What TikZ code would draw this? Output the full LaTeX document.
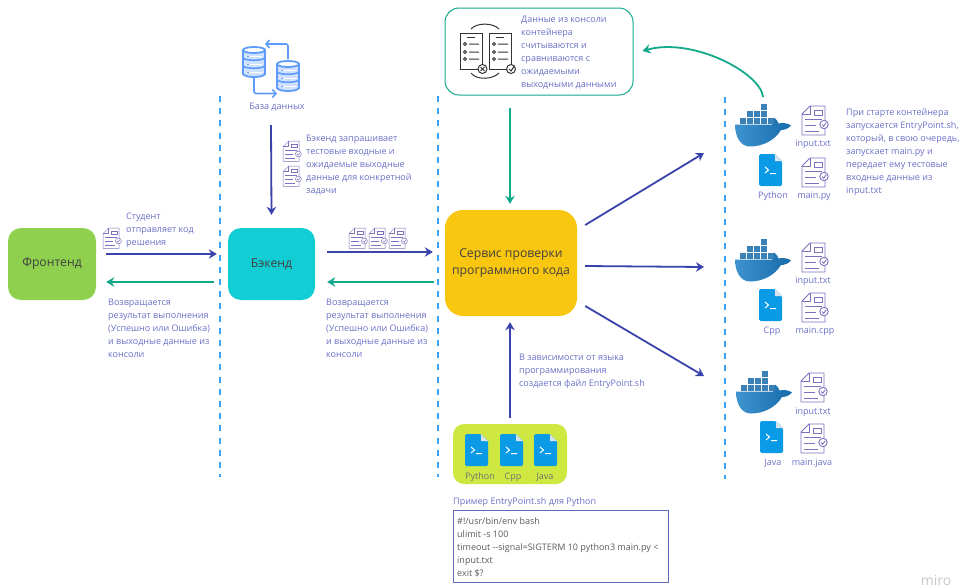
\documentclass[tikz,border=0pt]{standalone}
\usepackage{fontspec}
\setmainfont{Open Sans}
\usetikzlibrary{arrows.meta,calc}
\definecolor{txt}{HTML}{6A70C6}
\definecolor{arrb}{HTML}{3A42AC}
\definecolor{arrg}{HTML}{14A88C}
\definecolor{dashc}{HTML}{3AA3F5}
\definecolor{docc}{HTML}{7A72BE}
\definecolor{filec}{HTML}{0A9AE6}
\definecolor{foldc}{HTML}{D8E4EC}
\definecolor{dbc}{HTML}{5F9BFA}
\definecolor{whalel}{HTML}{3F93CF}
\definecolor{whaled}{HTML}{166BAA}
\definecolor{febox}{HTML}{8FD14F}
\definecolor{bebox}{HTML}{12CDD4}
\definecolor{svbox}{HTML}{FAC710}
\definecolor{limebox}{HTML}{CEE741}
\tikzset{
  lbl/.style={font=\fontsize{9}{13}\selectfont,text=txt,align=left,inner sep=0pt,anchor=north west},
  captxt/.style={font=\fontsize{9}{13}\selectfont,text=txt,inner sep=0pt,anchor=center,yshift=-1.5pt},
  limetxt/.style={font=\fontsize{9}{13}\selectfont,text=black!55,inner sep=0pt,anchor=center,yshift=-1pt},
  bigbox/.style={rounded corners=13pt,inner sep=0pt,font=\fontsize{12.2}{17}\selectfont,align=center,text=black!75},
  sepline/.style={dashc,line width=1.3pt,dash pattern=on 6pt off 6.2pt},
  barrow/.style={arrb,line width=1.8pt,-{Stealth[length=8pt,width=9.5pt]}},
  garrow/.style={arrg,line width=1.8pt,-{Stealth[length=8pt,width=9.5pt]}},
  pics/docicon/.style={code={
    \draw[docc,line width=#1,line join=round,fill=white]
      (8,0) -- (23,0) -- (23,29) -- (0,29) -- (0,8) -- cycle;
    \draw[docc,line width=#1,line join=round] (8,0) -- (8,8) -- (0,8);
    \draw[docc,line width=#1] (12,4) rectangle (20,9.5);
    \draw[docc,line width=#1] (3,13) -- (20,13) (3,19) -- (14,19) (3,25) -- (17,25);
    \draw[docc,line width=#1,fill=white] (22,18.5) circle (4.2);
    \draw[docc,line width=#1] (20,18.5) -- (21.7,20.3) -- (24.2,16.8);
  }},
  pics/fileicon/.style={code={
    \fill[filec,rounded corners=1.5pt] (0,0) -- (16,0) -- (23,7) -- (23,32) -- (0,32) -- cycle;
    \fill[foldc] (16,0) -- (23,7) -- (16,7) -- cycle;
    \draw[white,line width=1pt] (6,13) -- (9.5,16) -- (6,19) (11,19.5) -- (17,19.5);
  }},
  pics/whaleicon/.style={code={
    \shade[left color=whalel,right color=whaled] (0,21.5) -- (37,21.5) .. controls (37.5,19) and (38,16.5) .. (39,14.5) .. controls (41,16) and (43,18) .. (43.5,20.5) .. controls (47,19.5) and (53,20) .. (56,22.5) .. controls (53,26) and (49,27) .. (46,27) .. controls (40,37) and (28,43.5) .. (15,43.5) .. controls (5,43.5) and (0,33) .. (0,21.5) -- cycle;
    \foreach \c in {0,1,2,3,4}{\fill[whaled!85!white] (5+\c*7,15) rectangle ++(6,6);}
    \foreach \c in {1,2,3}{\fill[whaled!85!white] (5+\c*7,8) rectangle ++(6,6);}
    \fill[whaled!85!white] (26,1) rectangle ++(6,6);
  }},
  pics/cyl/.style={code={
    \draw[dbc,line width=1.8pt,fill=dbc!30] (0,3) -- (0,27) .. controls (2,31) and (20,31) .. (22,27) -- (22,3);
    \draw[dbc,line width=1.8pt,fill=white] (11,3) ellipse (11 and 3);
    \draw[dbc,line width=1.6pt] (0,11) .. controls (3,14) and (19,14) .. (22,11) (0,19) .. controls (3,22) and (19,22) .. (22,19);
    \draw[white,line width=1.6pt] (3,9.5) -- (19,9.5) (3,17.5) -- (19,17.5) (3,25.5) -- (19,25.5);
    \draw[dbc,line width=1.2pt] (4,9.5) -- (6,9.5) (4,17.5) -- (6,17.5) (4,25.5) -- (6,25.5);
  }},
  pics/sheet/.style={code={
    \draw[black!80,line width=1pt] (0,0) rectangle (22,36);
    \draw[black!80,line width=1pt] (7,4) -- (15,4);
    \foreach \yy in {11,19,26}{\draw[black!80,line width=1pt] (5,\yy) circle (1.5) (9,\yy) -- (19,\yy);}
  }}
}
\begin{document}
\begin{tikzpicture}[x=1pt,y=-1pt]
\useasboundingbox (0,0) rectangle (974,587);
% separators
\coordinate (s1t) at (220,96); \coordinate (s1b) at (220,477);
\coordinate (s2t) at (438,96); \coordinate (s2b) at (438,477);
\coordinate (s3t) at (725,97); \coordinate (s3b) at (725,479);
\draw[sepline] (s1t) -- (s1b);
\draw[sepline] (s2t) -- (s2b);
\draw[sepline] (s3t) -- (s3b);
% main boxes
\node[bigbox,fill=febox,minimum width=88pt,minimum height=72pt] (fe) at (52,264) {Фронтенд};
\node[bigbox,fill=bebox,minimum width=87pt,minimum height=72pt] (be) at (271.5,264) {Бэкенд};
\node[bigbox,fill=svbox,minimum width=132pt,minimum height=106pt,rounded corners=18pt] (sv) at (511,263) {Сервис проверки\\программного кода};
\node[draw=arrg,line width=1pt,fill=white,rounded corners=14pt,minimum width=188pt,minimum height=87pt,inner sep=0pt] (chk) at (539,51.5) {};
\node[fill=limebox,rounded corners=11pt,minimum width=114pt,minimum height=60pt,inner sep=0pt] (lm) at (510,454) {};
\node[draw=arrb!80,line width=1pt,minimum width=215pt,minimum height=72pt,inner sep=0pt] (code) at (560.5,546) {};
% docker anchors
\coordinate (d1) at (735,103);
\coordinate (d2) at (735,238);
\coordinate (d3) at (736,370);
\coordinate (t1) at (704,153);
\coordinate (t2) at (704,267);
\coordinate (t3) at (704,376);
% arrows
\draw[barrow] ([xshift=10pt,yshift=10pt]fe.east) -- ([xshift=-11pt,yshift=10pt]be.west);
\draw[garrow] ([xshift=-14pt,yshift=-18pt]be.west) -- ([xshift=10pt,yshift=-18pt]fe.east);
\draw[barrow] ([xshift=12pt,yshift=12pt]be.east) -- ([xshift=-12pt,yshift=11pt]sv.west);
\draw[garrow] ([xshift=-11pt,yshift=-19pt]sv.west) -- ([xshift=12pt,yshift=-18pt]be.east);
\draw[garrow] ([xshift=-29pt,yshift=-12pt]chk.south) -- ([xshift=-1pt,yshift=6pt]sv.north);
\draw[barrow] ([yshift=6pt]lm.north) -- ([xshift=-1pt,yshift=-6pt]sv.south);
\node[inner sep=0pt,minimum size=0pt] (dbl) at (271,125) {};
\draw[barrow] (dbl) -- ([yshift=13pt]be.north);
\draw[barrow] ([xshift=8pt,yshift=38pt]sv.east) -- (t1);
\draw[barrow] ([xshift=8pt,yshift=-3pt]sv.east) -- (t2);
\draw[barrow] ([xshift=8pt,yshift=-43pt]sv.east) -- (t3);
\draw[garrow] ([xshift=28pt,yshift=6pt]d1) .. controls +(-2,-24) and +(50,-14) .. ([xshift=9pt,yshift=0.5pt]chk.east);
% box labels
\node[lbl] (tchk) at (521,15.5) {Данные из консоли\\контейнера\\считываются и\\сравниваются с\\ожидаемыми\\выходными данными};
\node[captxt] (tdb) at (277,106) {База данных};
\node[lbl] (tbe) at (306,134.5) {Бэкенд запрашивает\\тестовые входные и\\ожидаемые выходные\\данные для конкретной\\задачи};
\node[lbl] (tst) at (126,212.5) {Студент\\отправляет код\\решения};
\node[lbl] (tr1) at (108,299) {Возвращается\\результат выполнения\\(Успешно или Ошибка)\\и выходные данные из\\консоли};
\node[lbl] (tr2) at (326,299) {Возвращается\\результат выполнения\\(Успешно или Ошибка)\\и выходные данные из\\консоли};
\node[lbl] (tdep) at (519,353.5) {В зависимости от языка\\программирования\\создается файл EntryPoint.sh};
\node[lbl] (tstart) at (846,108.5) {При старте контейнера\\запускается EntryPoint.sh,\\который, в свою очередь,\\запускает main.py и\\передает ему тестовые\\входные данные из\\input.txt};
\node[lbl] (tex) at (453,497) {Пример EntryPoint.sh для Python};
\node[lbl,text=black!65] (tcode) at (457,517) {\#!/usr/bin/env bash\\ulimit -s 100\\timeout -{}-signal=SIGTERM 10 python3 main.py <\\input.txt\\exit \$?};
% lime files
\pic at (465,434) {fileicon};
\pic at (500,434) {fileicon};
\pic at (534,434) {fileicon};
\node[limetxt] (lp) at (480,476) {Python};
\node[limetxt] (lc) at (513,476) {Cpp};
\node[limetxt] (lj) at (545,476) {Java};
% doc icons small
\pic[scale=.7] at (103,228) {docicon=.5pt};
\pic[scale=.7] at (283,141) {docicon=.5pt};
\pic[scale=.7] at (283,166) {docicon=.5pt};
\pic[scale=.7] at (349,228) {docicon=.5pt};
\pic[scale=.7] at (369,228) {docicon=.5pt};
\pic[scale=.7] at (389,228) {docicon=.5pt};
% container 1
\pic at (d1) {whaleicon};
\pic at (802,106) {docicon=.9pt};
\pic at (802,158) {docicon=.9pt};
\pic at (759,154) {fileicon};
\node[captxt] (i1) at (813,143) {input.txt};
\node[captxt] (p1) at (773,194.5) {Python};
\node[captxt] (m1) at (814,194.5) {main.py};
% container 2
\pic at (d2) {whaleicon};
\pic at (802,243) {docicon=.9pt};
\pic at (802,293) {docicon=.9pt};
\pic at (759,289) {fileicon};
\node[captxt] (i2) at (813,279.5) {input.txt};
\node[captxt] (p2) at (772,330) {Cpp};
\node[captxt] (m2) at (815,330) {main.cpp};
% container 3
\pic at (d3) {whaleicon};
\pic at (801,373) {docicon=.9pt};
\pic at (801,424) {docicon=.9pt};
\pic at (760,421) {fileicon};
\node[captxt] (i3) at (813,411) {input.txt};
\node[captxt] (p3) at (773,462) {Java};
\node[captxt] (m3) at (812,462) {main.java};
% database icon
\pic at (243,47) {cyl};
\pic at (277,61) {cyl};
\draw[dbc,line width=1.6pt,-{Straight Barb[length=3.5pt,width=8pt]},rounded corners=2pt] (288,59) -- (288,44) -- (265,44);
\draw[dbc,line width=1.6pt,-{Straight Barb[length=3.5pt,width=8pt]},rounded corners=2pt] (254,78) -- (254,93.5) -- (277,93.5);
% checklist icon
\pic at (460,33) {sheet};
\pic at (489,33) {sheet};
\draw[black!80,line width=1pt] (471,29) .. controls (476,23) and (492,22) .. (499,29);
\draw[black!80,line width=1pt] (471,73) .. controls (476,80) and (492,80) .. (499,73);
\draw[black!80,line width=1pt,fill=white] (482.5,69) circle (4.5);
\draw[black!80,line width=1pt] (480.5,67) -- (484.5,71) (484.5,67) -- (480.5,71);
\draw[black!80,line width=1pt,fill=white] (511,69) circle (4.5);
\draw[black!80,line width=1pt] (509,69) -- (511,71) -- (514,66.5);
% miro
\node[inner sep=0pt,font=\fontsize{14}{16}\selectfont,text=black!22] (mr) at (936,580) {miro};
\end{tikzpicture}
\end{document}
